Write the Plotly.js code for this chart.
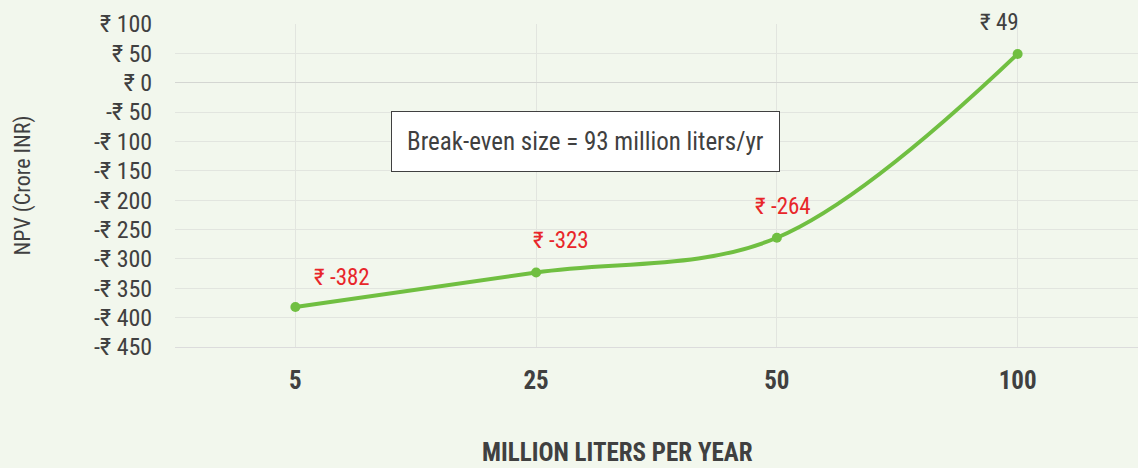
<!DOCTYPE html>
<html>
<head>
<meta charset="utf-8">
<script src="https://cdn.plot.ly/plotly-3.0.1.min.js"></script>
<style>
  html, body { margin: 0; padding: 0; background: #f2f7ed; }
  #chart { width: 1138px; height: 468px; }
</style>
</head>
<body>
<div id="chart"></div>
<script>
    // --- Data ---
    const capacities = ['5', '25', '50', '100'];
    const npvValues = [-382, -323, -264, 49];
    const yTickVals = [100, 50, 0, -50, -100, -150, -200, -250, -300, -350, -400, -450];
    const yTickText = yTickVals.map(v => (v < 0 ? '-₹ ' + Math.abs(v) : '₹ ' + v));
    const labelColors = ['#e8262a', '#e8262a', '#e8262a', '#404040'];
    const breakEvenNote = 'Break-even size = 93 million liters/yr';
    const xTitle = 'MILLION LITERS PER YEAR';

    const FONT = '"Roboto Condensed", Roboto, sans-serif';

    // label offsets (px) relative to each point
    const labelShift = [[47, 30], [25, 32], [6, 31], [-18, 31]];

    // category axis: annotations placed by index
    const labels = capacities.map((c, i) => ({
        x: i, y: npvValues[i], xref: 'x', yref: 'y',
        text: '₹ ' + npvValues[i],
        showarrow: false,
        xshift: labelShift[i][0], yshift: labelShift[i][1],
        font: { family: FONT, size: 23, color: labelColors[i] }
    }));

    labels.push({
        x: 0.4258, y: 0.635, xref: 'paper', yref: 'paper',
        xanchor: 'center', yanchor: 'middle',
        text: breakEvenNote, showarrow: false,
        font: { family: FONT, size: 25, color: '#404040' },
        bgcolor: '#ffffff', bordercolor: '#404040', borderwidth: 1,
        borderpad: 15
    });

    labels.push({
        x: 0.459, y: -0.328, xref: 'paper', yref: 'paper',
        xanchor: 'center', yanchor: 'middle',
        text: xTitle, showarrow: false,
        font: { family: FONT, size: 25, color: '#404040', weight: 'bold' }
    });

    Plotly.newPlot('chart', [{
        x: capacities,
        y: npvValues,
        mode: 'lines+markers',
        line: { color: '#70bf41', width: 4, shape: 'spline', smoothing: 1 },
        marker: { color: '#70bf41', size: 10 },
        hoverinfo: 'skip'
    }], {
        width: 1138, height: 468,
        margin: { l: 175, r: 0, t: 24, b: 121 },
        paper_bgcolor: '#f2f7ed',
        plot_bgcolor: '#f2f7ed',
        showlegend: false,
        font: { family: FONT, color: '#404040' },
        xaxis: {
            type: 'category',
            range: [-0.5, 3.5],
            showgrid: true, gridcolor: '#e2e5df', gridwidth: 1,
            zeroline: false, showline: true, linecolor: '#dcdcdc', linewidth: 1,
            ticks: 'outside', ticklen: 11, tickcolor: 'rgba(0,0,0,0)',
            tickfont: { family: FONT, size: 25, color: '#404040', weight: 'bold' }
        },
        yaxis: {
            range: [-450, 100],
            tickvals: yTickVals, ticktext: yTickText,
            showgrid: true, gridcolor: '#e2e5df', gridwidth: 1,
            zeroline: true, zerolinecolor: '#d4d6d2', zerolinewidth: 1,
            showline: false,
            ticks: 'outside', ticklen: 17, tickcolor: 'rgba(0,0,0,0)',
            tickfont: { family: FONT, size: 24, color: '#404040' },
            title: { text: 'NPV (Crore INR)', standoff: 57,
                     font: { family: FONT, size: 22, color: '#404040' } }
        },
        annotations: labels
    }, { displayModeBar: false });
</script>
</body>
</html>
